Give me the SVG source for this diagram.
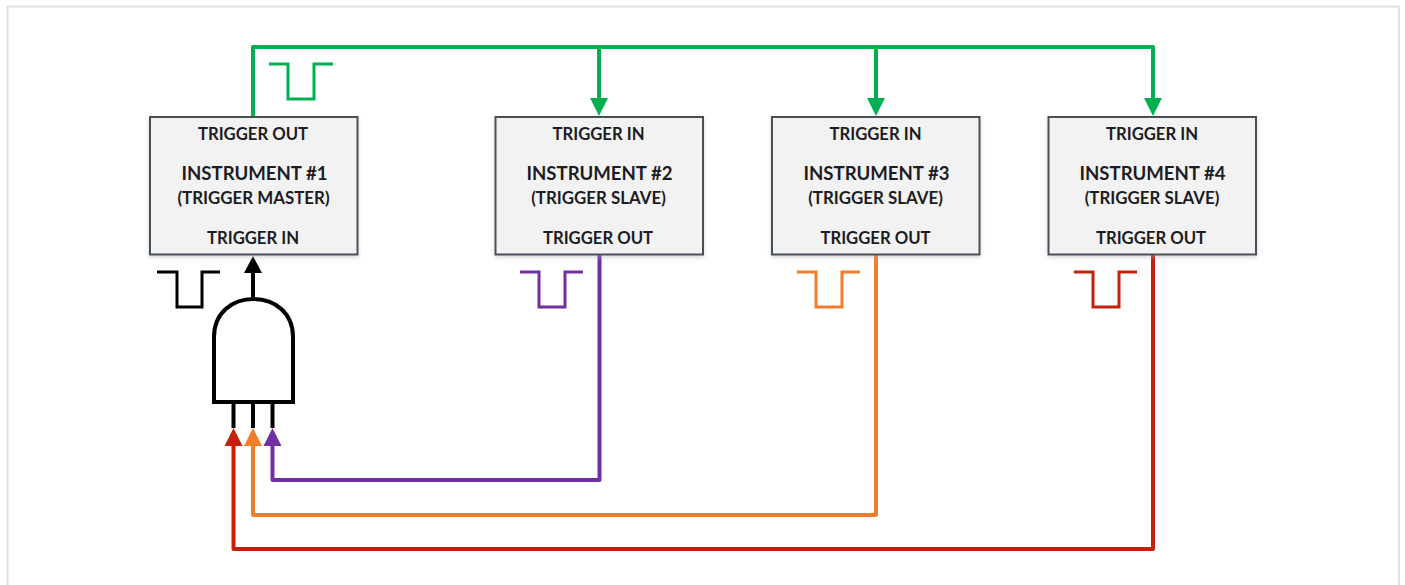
<svg xmlns="http://www.w3.org/2000/svg" width="1405" height="585" viewBox="0 0 1405 585">
<defs>
<filter id="sh" x="-5%" y="-5%" width="110%" height="115%"><feDropShadow dx="0" dy="2" stdDeviation="2" flood-color="#9ab" flood-opacity="0.45"/></filter>
</defs>
<style>
.box{fill:#f2f2f2;stroke:#4a4f55;stroke-width:2;filter:url(#sh)}
text{font-family:"Lato","Carlito","Open Sans",sans-serif;font-weight:700;fill:#1c1c22;text-anchor:middle}
.s{font-size:16.7px}
.n{font-size:16.9px}
.m{font-size:18.6px}
.w{fill:none;stroke-width:4;stroke-linejoin:round}
.p{fill:none;stroke-width:3}
.g{stroke:#00b050}.pu{stroke:#7030a0}.o{stroke:#f27d2a}.r{stroke:#c5200a}.k{stroke:#000}
</style>
<rect x="7.5" y="6.5" width="1391.5" height="590" fill="#fff" stroke="#e2e2e2" stroke-width="2"/>
<g id="connectors">
<path class="w g" d="M253 117V47H1153V101M599 47V101M876 47V101"/>
<path d="M590 98h18l-9 18zM867 98h18l-9 18zM1144 98h18l-9 18z" fill="#00b050"/>
<path class="w pu" d="M599.500 254V480H272.500V445"/>
<path class="w o" d="M876 254V515H253V445"/>
<path class="w r" d="M1153 254V549H233.500V445"/>
<path d="M224.500 446h18l-9-18z" fill="#c5200a"/>
<path d="M244 446h18l-9-18z" fill="#f27d2a"/>
<path d="M263.500 446h18l-9-18z" fill="#7030a0"/>
<path class="w k" d="M253 299V272"/>
<path d="M244 273h18l-9-17z"/>
<path class="w k" d="M233.500 402V428M253 402V428M272.500 402V428"/>
</g>
<g id="gate">
<path d="M214 402V337C214 313 232 299 253.500 299C275 299 293 313 293 337V402Z" fill="#fff" stroke="#000" stroke-width="4"/>
</g>
<g id="pulses">
<path class="p g" d="M269 64H288V99H314V64H333"/>
<path class="p k" d="M157 272H177V307H202V272H220"/>
<path class="p pu" d="M520 272H539V307H565V272H583"/>
<path class="p o" d="M797 272H816V307H842V272H860"/>
<path class="p r" d="M1074 272H1093V307H1119V272H1137"/>
</g>
<g id="instrument-1">
<rect class="box" x="150" y="117" width="207.500" height="137.500"/>
<text class="s" x="253" y="140">TRIGGER OUT</text>
<text class="m" x="254.500" y="180">INSTRUMENT #1</text>
<text class="n" x="253.500" y="204">(TRIGGER MASTER)</text>
<text class="s" x="253" y="244">TRIGGER IN</text>
</g>
<g id="instrument-2">
<rect class="box" x="495.500" y="117" width="207.500" height="137.500"/>
<text class="s" x="598.500" y="140">TRIGGER IN</text>
<text class="m" x="599.500" y="180">INSTRUMENT #2</text>
<text class="n" x="598.500" y="204">(TRIGGER SLAVE)</text>
<text class="s" x="598" y="244">TRIGGER OUT</text>
</g>
<g id="instrument-3">
<rect class="box" x="772" y="117" width="207.500" height="137.500"/>
<text class="s" x="875.500" y="140">TRIGGER IN</text>
<text class="m" x="876.500" y="180">INSTRUMENT #3</text>
<text class="n" x="875.500" y="204">(TRIGGER SLAVE)</text>
<text class="s" x="875.500" y="244">TRIGGER OUT</text>
</g>
<g id="instrument-4">
<rect class="box" x="1048.500" y="117" width="207.500" height="137.500"/>
<text class="s" x="1152" y="140">TRIGGER IN</text>
<text class="m" x="1152.500" y="180">INSTRUMENT #4</text>
<text class="n" x="1152" y="204">(TRIGGER SLAVE)</text>
<text class="s" x="1151" y="244">TRIGGER OUT</text>
</g>
</svg>
